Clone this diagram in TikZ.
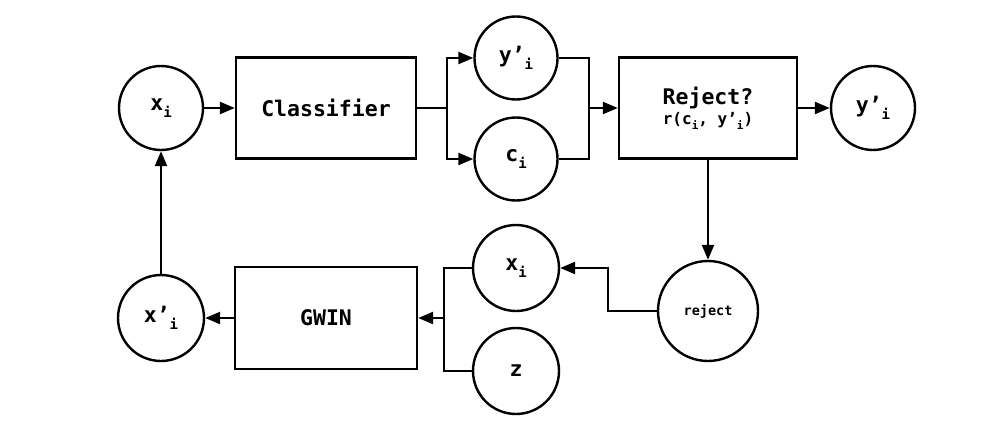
\documentclass[tikz,border=0pt]{standalone}
\usepackage{fontspec}
\setmonofont{DejaVu Sans Mono}
\usetikzlibrary{arrows.meta}
\newcommand{\sbi}{\raisebox{-0.6ex}{\fontsize{14}{14}\selectfont i}}
\newcommand{\sbs}{\raisebox{-0.55ex}{\fontsize{11}{11}\selectfont i}}
\begin{document}
\begin{tikzpicture}[x=1pt,y=-1pt,
  every node/.style={font=\ttfamily\bfseries\fontsize{21.5}{24}\selectfont},
  circ/.style={draw,circle,line width=2.4pt,minimum size=84pt,inner sep=0pt},
  bx/.style={draw,rectangle,line width=2.4pt,minimum width=180pt,minimum height=101pt,inner sep=0pt},
  conn/.style={line width=2.4pt},
  arr/.style={conn,-{Triangle[length=15pt,width=12pt]}}]
\useasboundingbox (0,0) rectangle (1006,425);
\node[circ] (xi) at (161,108) {x\sbi};
\node[bx] (cls) at (326,108) {Classifier};
\node[circ,minimum size=83pt] (yp) at (516,58) {y’\sbi};
\node[circ,minimum size=83pt] (ci) at (516,159) {c\sbi};
\node[bx,minimum width=178pt,align=center] (rej) at (708,108) {Reject?\\[-4pt]{\fontsize{16}{18}\selectfont r(c\sbs, y’\sbs)}};
\node[circ] (yo) at (873,108) {y’\sbi};
\node[circ,minimum size=100pt,font=\ttfamily\bfseries\fontsize{13.5}{15}\selectfont] (rc) at (708,311) {reject};
\node[circ,minimum size=86pt] (xl) at (516,268) {x\sbi};
\node[circ,minimum size=86pt] (z) at (516,371) {z};
\node[bx,minimum width=182pt,minimum height=102pt] (gw) at (326,318) {GWIN};
\node[circ,minimum size=86pt] (xp) at (161,318) {x’\sbi};

\draw[arr] (xi) -- (cls);
\draw[conn] (cls.east) -- ++(30,0) coordinate (b1);
\draw[arr] (b1) |- (yp.west);
\draw[arr] (b1) |- (ci.west);
\draw[conn] (yp.east) -- ++(30,0) coordinate (b2) |- (ci.east);
\draw[arr] (b2 |- rej.west) -- (rej.west);
\draw[arr] (rej) -- (yo);
\draw[arr] (rej.south) -- (rc.north);
\draw[arr] (rc.west) -- ++(-49,0) |- (xl.east);
\draw[conn] (xl.west) -- ++(-28,0) coordinate (b3) |- (z.west);
\draw[arr] (b3 |- gw.east) -- (gw.east);
\draw[arr] (gw.west) -- (xp.east);
\draw[arr] (xp.north) -- (xi.south);
\end{tikzpicture}
\end{document}
